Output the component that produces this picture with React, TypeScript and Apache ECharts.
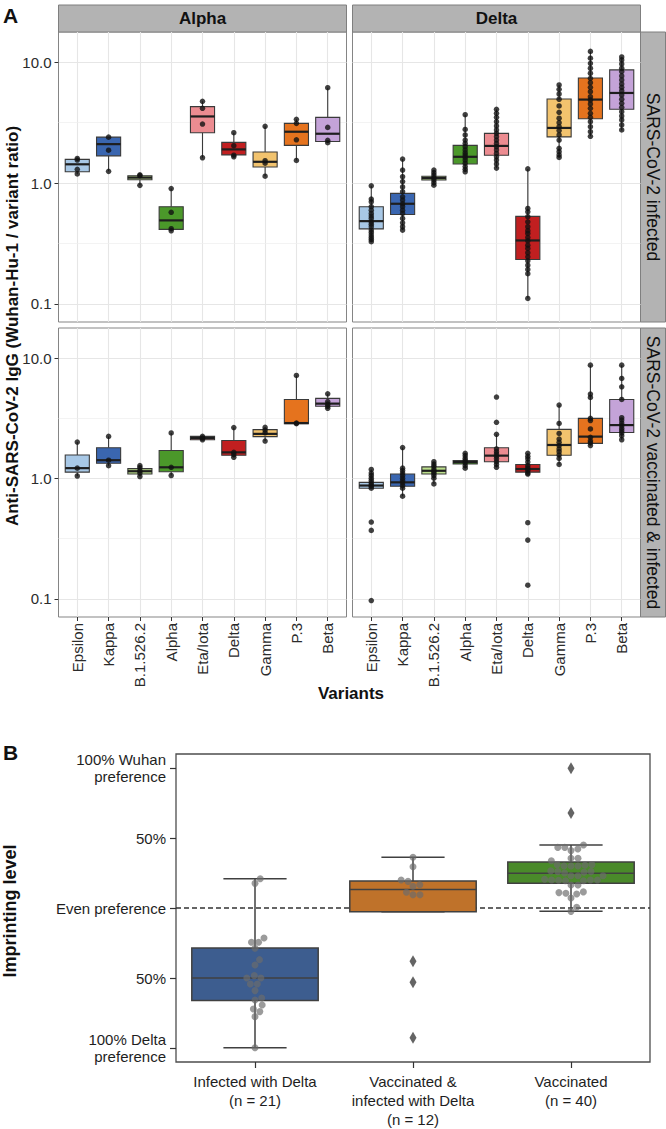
import React, { useEffect, useRef } from "react";
import * as echarts from "echarts";

const FONT = "Liberation Sans, Arial, Helvetica, sans-serif";

// ---------- Panel A data ----------
const VARIANTS = ["Epsilon", "Kappa", "B.1.526.2", "Alpha", "Eta/Iota", "Delta", "Gamma", "P.3", "Beta"];
const VARIANT_COLORS = ["#a8c8e6", "#3a66b0", "#bcdf8c", "#4b982a", "#ec8c91", "#c11f20", "#f2c36e", "#e5731e", "#c4a3d8"];
const Y_TICKS_A = [0.1, 1, 10];
const MINOR_GRID_A = [0.3162, 3.162];

// [min, q1, median, q3, max]
const ALPHA_INF_BOX = [
  [1.19, 1.24, 1.43, 1.57, 1.6], [1.25, 1.68, 2.1, 2.4, 2.4], [0.957, 1.065, 1.11, 1.15, 1.17],
  [0.403, 0.414, 0.491, 0.637, 0.9], [1.62, 2.61, 3.56, 4.29, 4.75], [1.65, 1.71, 1.9, 2.17, 2.61],
  [1.14, 1.36, 1.5, 1.81, 2.95], [1.54, 2.05, 2.66, 3.12, 3.37], [2.16, 2.21, 2.56, 3.5, 6.16],
];
const ALPHA_INF_POINTS = [
  [1.6, 1.55, 1.3, 1.19], [2.4, 1.87, 1.25], [1.17, 1.15, 0.957], [0.9, 0.573, 0.419, 0.403],
  [4.75, 4.16, 3.08, 1.62], [2.61, 2.04, 1.7, 1.65], [2.95, 1.53, 1.46, 1.14], [3.37, 3.12, 2.28, 1.54],
  [6.16, 2.89, 2.26, 2.16],
];

const DELTA_INF_BOX = [
  [0.327, 0.418, 0.484, 0.637, 0.95], [0.408, 0.55, 0.674, 0.821, 1.58], [0.96, 1.06, 1.1, 1.14, 1.28],
  [1.24, 1.44, 1.65, 2.05, 3.68], [1.33, 1.7, 2.03, 2.58, 4.08], [0.111, 0.233, 0.335, 0.53, 1.31],
  [1.63, 2.41, 2.86, 4.97, 6.49], [2.44, 3.41, 4.91, 7.41, 12.3], [2.72, 4.08, 5.57, 8.64, 11.07],
];
const DELTA_INF_POINTS = [
  [0.95, 0.737, 0.7, 0.637, 0.597, 0.561, 0.533, 0.51, 0.478, 0.457, 0.435, 0.408, 0.39, 0.371, 0.355, 0.341, 0.327],
  [1.58, 1.28, 1.13, 1.03, 0.93, 0.848, 0.77, 0.723, 0.674, 0.637, 0.597, 0.561, 0.51, 0.469, 0.435, 0.408],
  [1.28, 1.22, 1.165, 1.107, 1.06, 1.006, 0.96],
  [3.68, 2.78, 2.5, 2.27, 2.13, 2.0, 1.88, 1.78, 1.71, 1.63, 1.55, 1.46, 1.37, 1.3, 1.24],
  [4.08, 3.78, 3.5, 3.22, 2.97, 2.75, 2.58, 2.42, 2.27, 2.13, 2.0, 1.88, 1.76, 1.65, 1.55, 1.44, 1.33],
  [1.31, 0.617, 0.578, 0.527, 0.478, 0.435, 0.403, 0.383, 0.355, 0.333, 0.306, 0.288, 0.265, 0.245, 0.227, 0.209, 0.193, 0.178, 0.111],
  [6.49, 5.97, 5.46, 4.94, 4.35, 3.85, 3.44, 3.16, 2.93, 2.72, 2.5, 2.27, 1.94, 1.82, 1.71, 1.63],
  [12.3, 10.8, 9.81, 8.92, 8.11, 7.37, 6.78, 6.2, 5.71, 5.19, 4.87, 4.52, 4.16, 3.78, 3.5, 3.22, 2.93, 2.66, 2.44],
  [11.07, 10.45, 9.68, 8.92, 8.37, 7.71, 7.14, 6.61, 6.2, 5.82, 5.36, 4.94, 4.57, 4.24, 3.9, 3.59, 3.33, 3.03, 2.75],
];

const ALPHA_VAC_BOX = [
  [1.05, 1.13, 1.22, 1.57, 2.01], [1.28, 1.34, 1.42, 1.8, 2.24], [1.04, 1.09, 1.15, 1.21, 1.28],
  [1.06, 1.14, 1.24, 1.71, 2.39], [2.1, 2.1, 2.17, 2.24, 2.24], [1.5, 1.56, 1.65, 2.07, 2.65],
  [2.05, 2.23, 2.35, 2.55, 2.66], [2.86, 2.86, 2.89, 4.54, 7.18], [3.83, 3.98, 4.19, 4.63, 5.06],
];
const ALPHA_VAC_POINTS = [
  [2.01, 1.22, 1.05], [2.24, 1.42, 1.28], [1.28, 1.23, 1.16, 1.11, 1.04], [2.39, 1.24, 1.06],
  [2.24, 2.17, 2.1], [2.65, 1.65, 1.58, 1.5], [2.66, 2.53, 2.4, 2.05], [7.18, 2.89, 2.86],
  [5.06, 4.36, 4.15, 3.98, 3.83],
];

const DELTA_VAC_BOX = [
  [0.831, 0.831, 0.875, 0.93, 1.19], [0.714, 0.863, 0.93, 1.09, 1.81], [0.903, 1.09, 1.16, 1.25, 1.38],
  [1.22, 1.32, 1.37, 1.41, 1.62], [1.24, 1.38, 1.55, 1.8, 2.33], [1.09, 1.13, 1.2, 1.31, 1.62],
  [1.31, 1.56, 1.9, 2.56, 4.08], [1.88, 1.96, 2.23, 3.16, 8.75], [2.1, 2.41, 2.78, 4.54, 8.75],
];
const DELTA_VAC_POINTS = [
  [1.19, 1.11, 1.06, 1.006, 0.963, 0.921, 0.886, 0.864, 0.831, 0.435, 0.371, 0.097],
  [1.81, 1.22, 1.165, 1.11, 1.06, 1.006, 0.963, 0.921, 0.875, 0.831, 0.714],
  [1.38, 1.32, 1.265, 1.2, 1.15, 1.107, 1.06, 1.006, 0.903],
  [1.62, 1.55, 1.47, 1.41, 1.35, 1.28, 1.22],
  [4.75, 2.93, 2.33, 1.76, 1.67, 1.6, 1.53, 1.46, 1.38, 1.31, 1.24],
  [1.62, 1.53, 1.46, 1.37, 1.28, 1.22, 1.165, 1.11, 1.09, 0.43, 0.308, 0.13],
  [4.08, 2.87, 2.37, 2.13, 2.0, 1.88, 1.76, 1.67, 1.57, 1.47, 1.31],
  [8.75, 5.03, 4.72, 3.16, 3.03, 2.58, 2.2, 2.06, 1.98, 1.88],
  [8.75, 6.78, 5.78, 4.54, 3.2, 3.06, 2.89, 2.75, 2.61, 2.5, 2.39, 2.27, 2.1],
];

const COL_FACETS = ["Alpha", "Delta"];
const ROW_FACETS = ["SARS-CoV-2 infected", "SARS-CoV-2 vaccinated & infected"];

// ---------- Panel B data ----------
const B_GROUPS = ["Infected with Delta\n(n = 21)", "Vaccinated &\ninfected with Delta\n(n = 12)", "Vaccinated\n(n = 40)"];
const B_COLORS = ["#3d5d8f", "#bf722a", "#4a8a2a"];
const B_BOX = [
  [-0.998, -0.66, -0.5, -0.286, 0.209],
  [-0.026, -0.026, 0.133, 0.193, 0.362],
  [-0.024, 0.176, 0.248, 0.329, 0.45],
];
const B_SWARM = [
  [0.209, 0.176, -0.214, -0.245, -0.245, -0.288, -0.369, -0.407, -0.483, -0.5, -0.5, -0.543, -0.543, -0.59, -0.643, -0.657, -0.693, -0.721, -0.74, -0.776, -0.998],
  [0.362, 0.295, 0.2, 0.19, 0.166, 0.155, 0.112, 0.095, 0.095],
  [0.45, 0.433, 0.433, 0.421, 0.41, 0.355, 0.355, 0.338, 0.31, 0.31, 0.305, 0.3, 0.3, 0.3, 0.265, 0.26, 0.26, 0.255, 0.25, 0.23, 0.23, 0.23, 0.205, 0.2, 0.2, 0.2, 0.198, 0.195, 0.195, 0.164, 0.164, 0.115, 0.11, 0.105, 0.1, 0.071, 0.005, -0.024],
];
const B_OUTLIERS = [[], [-0.381, -0.531, -0.926], [0.998, 0.679]];
const B_TICK_VALUES = [-1, -0.5, 0, 0.5, 1];
const B_TICK_LABELS = ["100% Delta\npreference", "50%", "Even preference", "50%", "100% Wuhan\npreference"];

// ---------- layout ----------
const A_MIN = 0.0708;
const A_MAX = 17.8;
const PANELS = [
  { left: 58.5, top: 32, width: 288, height: 290, box: ALPHA_INF_BOX, pts: ALPHA_INF_POINTS, showY: true, showX: false },
  { left: 352.5, top: 32, width: 288, height: 290, box: DELTA_INF_BOX, pts: DELTA_INF_POINTS, showY: false, showX: false },
  { left: 58.5, top: 328, width: 288, height: 289, box: ALPHA_VAC_BOX, pts: ALPHA_VAC_POINTS, showY: true, showX: true },
  { left: 352.5, top: 328, width: 288, height: 289, box: DELTA_VAC_BOX, pts: DELTA_VAC_POINTS, showY: false, showX: true },
];
const B_GRID = { left: 176, top: 754, width: 474, height: 309 };
const B_YMIN = -1.1;
const B_YMAX = 1.1;

function swarmOffsets(values: number[], pxX: number, pxY: number, d: number): number[] {
  const order = values.map((_, i) => i).sort((a, b) => values[a] - values[b]);
  const placed: { x: number; y: number }[] = [];
  const out = new Array(values.length).fill(0);
  for (const i of order) {
    const y = values[i] * pxY;
    const cands = [0];
    for (const p of placed) {
      const dy = Math.abs(p.y - y);
      if (dy < d) {
        const dx = Math.sqrt(d * d - dy * dy);
        cands.push(p.x + dx, p.x - dx);
      }
    }
    cands.sort((a, b) => Math.abs(a) - Math.abs(b));
    let chosen = 0;
    for (const c of cands) {
      if (placed.every((p) => (p.x - c) ** 2 + (p.y - y) ** 2 >= d * d - 0.01)) {
        chosen = c;
        break;
      }
    }
    placed.push({ x: chosen, y });
    out[i] = chosen / pxX;
  }
  return out;
}

function buildOption() {
  const grid: any[] = [];
  const xAxis: any[] = [];
  const yAxis: any[] = [];
  const series: any[] = [];
  const graphic: any[] = [];

  PANELS.forEach((p) => {
    const bw = p.width / 9.2;
    grid.push({ left: p.left, top: p.top, width: p.width, height: p.height, show: true, borderColor: "#858585", borderWidth: 1 });
    const gP = grid.length - 1;
    xAxis.push({ gridIndex: gP, type: "value", min: 0, max: 1, show: false, axisLine: { onZero: false } });
    yAxis.push({
      gridIndex: gP, type: "log", logBase: 10, min: A_MIN, max: A_MAX,
      axisLine: { show: false, onZero: false },
      axisTick: { show: p.showY, customValues: Y_TICKS_A, length: 4, lineStyle: { color: "#333", width: 1 } },
      axisLabel: { show: p.showY, customValues: Y_TICKS_A, margin: 7, fontSize: 15, color: "#2b2b2b", fontFamily: FONT, formatter: (v: number) => Number(v).toFixed(1) },
      splitLine: { show: true, lineStyle: { color: "#e6e6e6", width: 1.1 } },
    });
    const axP = xAxis.length - 1;
    series.push({
      type: "line", xAxisIndex: axP, yAxisIndex: axP, data: [], silent: true, z: 0,
      markLine: {
        silent: true, z: 0, symbol: ["none", "none"], label: { show: false }, animation: false,
        lineStyle: { color: "#eeeeee", width: 0.7, type: "solid" },
        data: MINOR_GRID_A.map((v) => ({ yAxis: v })),
      },
    });
    grid.push({ left: p.left + 0.6 * bw, top: p.top, width: 8 * bw, height: p.height });
    const gC = grid.length - 1;
    xAxis.push({
      gridIndex: gC, type: "category", data: VARIANTS, boundaryGap: false,
      axisLine: { show: false, onZero: false },
      axisTick: { show: p.showX, length: 4, interval: 0, lineStyle: { color: "#333", width: 1 } },
      axisLabel: { show: p.showX, rotate: 90, interval: 0, margin: 6, fontSize: 15, color: "#2b2b2b", fontFamily: FONT },
      splitLine: { show: true, interval: 0, lineStyle: { color: "#e6e6e6", width: 1.1 } },
    });
    yAxis.push({ gridIndex: gC, type: "log", logBase: 10, min: A_MIN, max: A_MAX, show: false, axisLine: { onZero: false } });
    const axC = xAxis.length - 1;
    series.push({
      type: "custom", xAxisIndex: axC, yAxisIndex: axC, z: 2,
      encode: { x: 0, y: [1, 2, 3, 4, 5] },
      data: p.box.map((s, i) => [i, ...s]),
      renderItem: (params: any, api: any) => {
        const x = api.value(0);
        const lo = api.coord([x, api.value(1)]);
        const q1 = api.coord([x, api.value(2)]);
        const md = api.coord([x, api.value(3)]);
        const q3 = api.coord([x, api.value(4)]);
        const hi = api.coord([x, api.value(5)]);
        const w = api.size([1, 1])[0] * 0.77;
        const cx = md[0];
        const stroke = "#3a3a3a";
        return {
          type: "group",
          children: [
            { type: "line", shape: { x1: cx, y1: hi[1], x2: cx, y2: q3[1] }, style: { stroke, lineWidth: 1.1 } },
            { type: "line", shape: { x1: cx, y1: q1[1], x2: cx, y2: lo[1] }, style: { stroke, lineWidth: 1.1 } },
            { type: "rect", shape: { x: cx - w / 2, y: q3[1], width: w, height: Math.max(q1[1] - q3[1], 1) }, style: { fill: VARIANT_COLORS[params.dataIndex], stroke, lineWidth: 1.1 } },
            { type: "line", shape: { x1: cx - w / 2, y1: md[1], x2: cx + w / 2, y2: md[1] }, style: { stroke: "#1e1e1e", lineWidth: 2.2 } },
          ],
        };
      },
    });
    const pts: number[][] = [];
    p.pts.forEach((arr, i) => arr.forEach((v) => pts.push([i, v])));
    series.push({
      type: "scatter", xAxisIndex: axC, yAxisIndex: axC, z: 3, symbol: "circle", symbolSize: 5.5,
      itemStyle: { color: "#111" }, data: pts, silent: true,
    });
  });

  // ---------- Panel B ----------
  grid.push({ ...B_GRID, show: true, borderColor: "#4d4d4d", borderWidth: 1.3 });
  const gB = grid.length - 1;
  xAxis.push({
    gridIndex: gB, type: "category", data: B_GROUPS, boundaryGap: true,
    axisLine: { show: false, onZero: false },
    axisTick: { show: true, alignWithLabel: true, length: 6, lineStyle: { color: "#333", width: 1.2 } },
    axisLabel: { interval: 0, margin: 10, fontSize: 15, lineHeight: 19, color: "#1e1e1e", fontFamily: FONT },
    splitLine: { show: false },
  });
  xAxis.push({ gridIndex: gB, type: "value", min: -0.5, max: 2.5, show: false, axisLine: { onZero: false } });
  const xBval = xAxis.length - 1;
  yAxis.push({
    gridIndex: gB, type: "value", min: B_YMIN, max: B_YMAX, position: "left",
    axisLine: { show: false, onZero: false },
    axisTick: { show: true, customValues: B_TICK_VALUES, length: 6, lineStyle: { color: "#333", width: 1.2 } },
    axisLabel: {
      customValues: B_TICK_VALUES, margin: 10, fontSize: 15, lineHeight: 17, color: "#1e1e1e", fontFamily: FONT,
      formatter: (v: number) => {
        const k = B_TICK_VALUES.findIndex((t) => Math.abs(t - v) < 1e-6);
        return k >= 0 ? B_TICK_LABELS[k] : "";
      },
    },
    splitLine: { show: false },
  });
  const yB = yAxis.length - 1;
  series.push({
    type: "line", xAxisIndex: xBval, yAxisIndex: yB, data: [], silent: true, z: 1,
    markLine: {
      silent: true, z: 1, symbol: ["none", "none"], label: { show: false }, animation: false,
      lineStyle: { color: "#333", width: 1.5, type: [5, 3] },
      data: [{ yAxis: 0 }],
    },
  });
  series.push({
    type: "custom", xAxisIndex: xBval, yAxisIndex: yB, z: 2,
    encode: { x: 0, y: [1, 2, 3, 4, 5] },
    data: B_BOX.map((s, i) => [i, ...s]),
    renderItem: (params: any, api: any) => {
      const x = api.value(0);
      const lo = api.coord([x, api.value(1)]);
      const q1 = api.coord([x, api.value(2)]);
      const md = api.coord([x, api.value(3)]);
      const q3 = api.coord([x, api.value(4)]);
      const hi = api.coord([x, api.value(5)]);
      const band = api.size([1, 1])[0];
      const w = band * 0.8;
      const cw = band * 0.4;
      const cx = md[0];
      const stroke = "#404040";
      return {
        type: "group",
        children: [
          { type: "line", shape: { x1: cx, y1: hi[1], x2: cx, y2: q3[1] }, style: { stroke, lineWidth: 1.5 } },
          { type: "line", shape: { x1: cx, y1: q1[1], x2: cx, y2: lo[1] }, style: { stroke, lineWidth: 1.5 } },
          { type: "line", shape: { x1: cx - cw / 2, y1: hi[1], x2: cx + cw / 2, y2: hi[1] }, style: { stroke, lineWidth: 1.5 } },
          { type: "line", shape: { x1: cx - cw / 2, y1: lo[1], x2: cx + cw / 2, y2: lo[1] }, style: { stroke, lineWidth: 1.5 } },
          { type: "rect", shape: { x: cx - w / 2, y: q3[1], width: w, height: q1[1] - q3[1] }, style: { fill: B_COLORS[params.dataIndex], stroke, lineWidth: 1.5 } },
          { type: "line", shape: { x1: cx - w / 2, y1: md[1], x2: cx + w / 2, y2: md[1] }, style: { stroke, lineWidth: 1.5 } },
        ],
      };
    },
  });
  const pxX = B_GRID.width / 3;
  const pxY = B_GRID.height / (B_YMAX - B_YMIN);
  const swarm: number[][] = [];
  B_SWARM.forEach((vals, g) => {
    const off = swarmOffsets(vals, pxX, pxY, 7);
    vals.forEach((v, i) => swarm.push([g + off[i], v]));
  });
  series.push({
    type: "scatter", xAxisIndex: xBval, yAxisIndex: yB, z: 3, symbol: "circle", symbolSize: 7, silent: true,
    itemStyle: { color: "rgba(108,108,108,0.85)" }, data: swarm,
  });
  const outl: number[][] = [];
  B_OUTLIERS.forEach((vals, g) => vals.forEach((v) => outl.push([g, v])));
  series.push({
    type: "scatter", xAxisIndex: xBval, yAxisIndex: yB, z: 3, symbol: "diamond", symbolSize: [7, 12], silent: true,
    itemStyle: { color: "#3d3d3d" }, data: outl,
  });

  // ---------- graphic texts / strips ----------
  const txt = (x: number, y: number, text: string, size: number, weight: string, rotation = 0, align = "center") => ({
    type: "text", x, y, rotation, silent: true,
    style: { text, fontSize: size, fontWeight: weight, fontFamily: FONT, fill: "#111", align, verticalAlign: "middle" },
  });
  graphic.push(txt(3, 15, "A", 21, "bold", 0, "left"));
  graphic.push(txt(3, 752, "B", 21, "bold", 0, "left"));
  [PANELS[0], PANELS[1]].forEach((p, k) => {
    graphic.push({ type: "rect", silent: true, shape: { x: p.left, y: 5, width: p.width, height: 27 }, style: { fill: "#b3b3b3", stroke: "#7f7f7f", lineWidth: 1 } });
    graphic.push(txt(p.left + p.width / 2, 18.5, COL_FACETS[k], 17, "bold"));
  });
  [PANELS[1], PANELS[3]].forEach((p, k) => {
    graphic.push({ type: "rect", silent: true, shape: { x: p.left + p.width, y: p.top, width: 25, height: p.height }, style: { fill: "#b3b3b3", stroke: "#7f7f7f", lineWidth: 1 } });
    graphic.push(txt(p.left + p.width + 12.5, p.top + p.height / 2, ROW_FACETS[k], 17.5, "normal", -Math.PI / 2));
  });
  graphic.push(txt(12, 326, "Anti-SARS-CoV-2 IgG (Wuhan-Hu-1 / variant ratio)", 17, "bold", Math.PI / 2));
  graphic.push(txt(351, 693, "Variants", 17, "bold"));
  graphic.push(txt(10, 911, "Imprinting level", 18, "bold", Math.PI / 2));

  return { animation: false, backgroundColor: "#ffffff", grid, xAxis, yAxis, series, graphic };
}

export default function App() {
  const ref = useRef<HTMLDivElement>(null);
  useEffect(() => {
    if (!ref.current) return;
    const chart = echarts.init(ref.current, undefined, { renderer: "svg" });
    chart.setOption(buildOption() as any);
    return () => chart.dispose();
  }, []);
  return <div ref={ref} style={{ position: "absolute", left: 0, top: 0, width: 666, height: 1129 }} />;
}
